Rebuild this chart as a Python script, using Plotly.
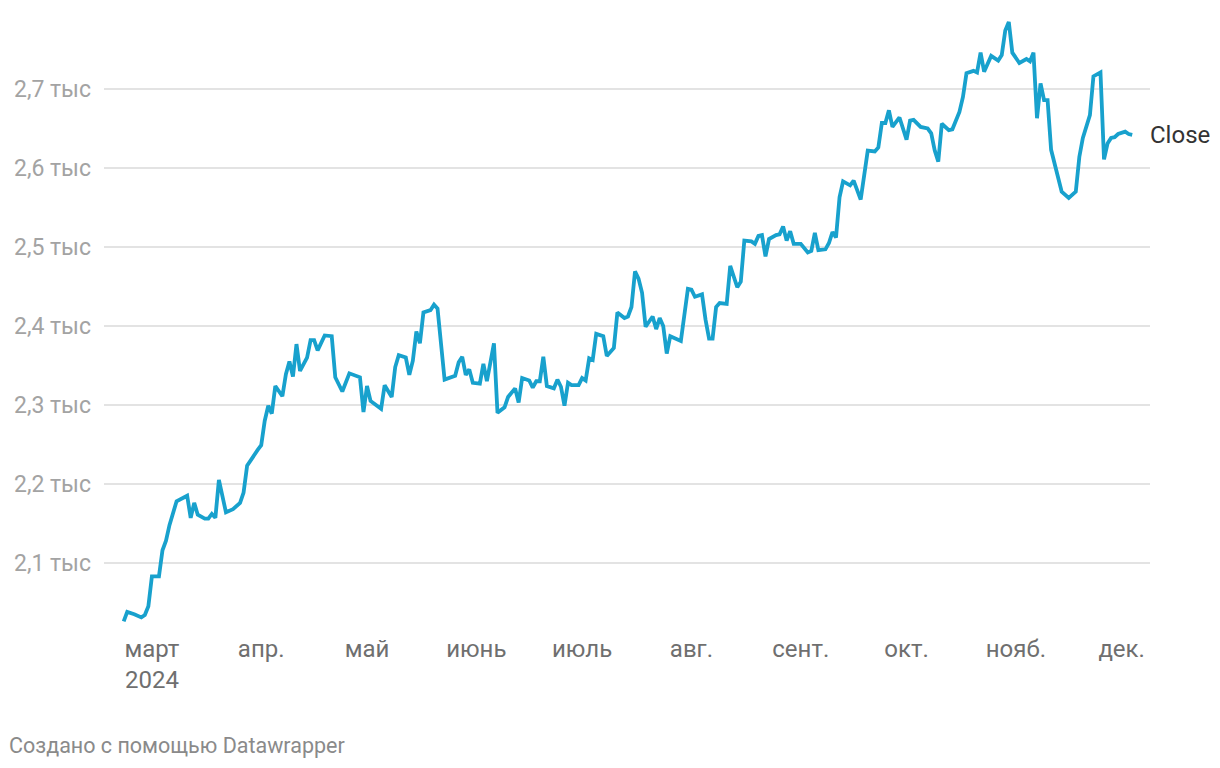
import plotly.graph_objects as go

# Daily close (vertices)
dates = [
    "2024-02-22", "2024-02-23", "2024-02-25", "2024-02-27", "2024-02-28", "2024-02-29",
    "2024-03-01", "2024-03-03", "2024-03-04", "2024-03-05", "2024-03-06", "2024-03-08",
    "2024-03-11", "2024-03-12", "2024-03-13", "2024-03-14", "2024-03-16", "2024-03-17",
    "2024-03-18", "2024-03-19", "2024-03-20", "2024-03-22", "2024-03-24", "2024-03-26",
    "2024-03-27", "2024-03-28", "2024-03-31",
    "2024-04-01", "2024-04-02", "2024-04-03", "2024-04-04", "2024-04-05", "2024-04-07",
    "2024-04-08", "2024-04-09", "2024-04-10", "2024-04-11", "2024-04-12", "2024-04-14",
    "2024-04-15", "2024-04-16", "2024-04-17", "2024-04-19", "2024-04-21", "2024-04-22",
    "2024-04-24", "2024-04-26", "2024-04-29", "2024-04-30",
    "2024-05-01", "2024-05-02", "2024-05-05", "2024-05-06", "2024-05-08", "2024-05-09",
    "2024-05-10", "2024-05-12", "2024-05-13", "2024-05-14", "2024-05-15", "2024-05-16",
    "2024-05-17", "2024-05-19", "2024-05-20", "2024-05-21", "2024-05-23", "2024-05-26",
    "2024-05-27", "2024-05-28", "2024-05-29", "2024-05-30", "2024-05-31",
    "2024-06-02", "2024-06-03", "2024-06-04", "2024-06-06", "2024-06-07", "2024-06-09",
    "2024-06-10", "2024-06-12", "2024-06-13", "2024-06-14", "2024-06-16", "2024-06-17",
    "2024-06-18", "2024-06-19", "2024-06-20", "2024-06-21", "2024-06-23", "2024-06-24",
    "2024-06-25", "2024-06-26", "2024-06-27", "2024-06-28", "2024-06-30",
    "2024-07-01", "2024-07-02", "2024-07-03", "2024-07-04", "2024-07-05", "2024-07-07",
    "2024-07-08", "2024-07-10", "2024-07-11", "2024-07-13", "2024-07-14", "2024-07-15",
    "2024-07-16", "2024-07-17", "2024-07-18", "2024-07-19", "2024-07-21", "2024-07-22",
    "2024-07-23", "2024-07-24", "2024-07-25", "2024-07-26", "2024-07-29", "2024-07-31",
    "2024-08-01", "2024-08-02", "2024-08-04", "2024-08-05", "2024-08-06", "2024-08-07",
    "2024-08-08", "2024-08-09", "2024-08-11", "2024-08-12", "2024-08-14", "2024-08-15",
    "2024-08-16", "2024-08-18", "2024-08-19", "2024-08-20", "2024-08-21", "2024-08-22",
    "2024-08-23", "2024-08-25", "2024-08-26", "2024-08-27", "2024-08-28", "2024-08-29",
    "2024-08-30",
    "2024-09-01", "2024-09-03", "2024-09-04", "2024-09-05", "2024-09-06", "2024-09-08",
    "2024-09-09", "2024-09-10", "2024-09-11", "2024-09-12", "2024-09-13", "2024-09-15",
    "2024-09-16", "2024-09-18", "2024-09-20", "2024-09-22", "2024-09-23", "2024-09-24",
    "2024-09-25", "2024-09-26", "2024-09-27", "2024-09-29",
    "2024-10-01", "2024-10-02", "2024-10-03", "2024-10-05", "2024-10-07", "2024-10-08",
    "2024-10-09", "2024-10-10", "2024-10-11", "2024-10-13", "2024-10-14", "2024-10-15",
    "2024-10-16", "2024-10-17", "2024-10-18", "2024-10-20", "2024-10-21", "2024-10-22",
    "2024-10-23", "2024-10-25", "2024-10-27", "2024-10-28", "2024-10-29", "2024-10-30",
    "2024-10-31",
    "2024-11-02", "2024-11-04", "2024-11-05", "2024-11-06", "2024-11-07", "2024-11-08",
    "2024-11-09", "2024-11-10", "2024-11-11", "2024-11-14", "2024-11-16", "2024-11-18",
    "2024-11-19", "2024-11-20", "2024-11-22", "2024-11-23", "2024-11-25", "2024-11-26",
    "2024-11-27", "2024-11-28", "2024-11-29", "2024-11-30",
    "2024-12-02", "2024-12-03", "2024-12-04",
]

close = [
    2026, 2038, 2035, 2031, 2034, 2045,
    2083, 2083, 2116, 2128, 2148, 2178, 2185, 2157, 2176, 2161, 2156, 2156,
    2162, 2157, 2205, 2164, 2168, 2176, 2189, 2223, 2243,
    2249, 2280, 2299, 2289, 2324, 2311, 2339, 2355, 2336, 2377, 2343, 2360,
    2382, 2382, 2369, 2388, 2387, 2335, 2317, 2340, 2335, 2291,
    2324, 2305, 2295, 2325, 2310, 2348, 2363, 2360, 2338, 2356, 2393, 2378,
    2417, 2420, 2427, 2422, 2332, 2337, 2354, 2361, 2338, 2345, 2328,
    2327, 2352, 2330, 2378, 2290, 2297, 2310, 2321, 2303, 2334, 2331, 2322,
    2330, 2330, 2361, 2324, 2321, 2332, 2323, 2299, 2328, 2325, 2325,
    2334, 2331, 2359, 2357, 2390, 2387, 2362, 2372, 2417, 2410, 2412, 2424,
    2469, 2460, 2442, 2399, 2412, 2396, 2410, 2400, 2365, 2387, 2381, 2447,
    2446, 2437, 2440, 2408, 2384, 2384, 2424, 2429, 2428, 2476, 2449, 2456,
    2508, 2507, 2504, 2514, 2515, 2488, 2510, 2515, 2516, 2526, 2508, 2520,
    2504,
    2504, 2493, 2495, 2518, 2496, 2497, 2505, 2519, 2512, 2563, 2583, 2578,
    2584, 2560, 2622, 2621, 2626, 2657, 2657, 2673, 2652, 2664,
    2636, 2660, 2661, 2652, 2650, 2644, 2622, 2608, 2656, 2648, 2649, 2659,
    2671, 2690, 2720, 2723, 2721, 2746, 2722, 2742, 2736, 2743, 2774, 2785,
    2746,
    2733, 2738, 2735, 2746, 2663, 2707, 2686, 2686, 2623, 2570, 2562, 2570,
    2614, 2638, 2667, 2716, 2721, 2611, 2631, 2638, 2639, 2643,
    2646, 2643, 2642,
]

month_ticks = ["2024-03-01", "2024-04-01", "2024-05-01", "2024-06-01", "2024-07-01",
               "2024-08-01", "2024-09-01", "2024-10-01", "2024-11-01", "2024-12-01"]
month_labels = ["март<br>2024", "апр.", "май", "июнь", "июль",
                "авг.", "сент.", "окт.", "нояб.", "дек."]

y_ticks = [2100, 2200, 2300, 2400, 2500, 2600, 2700]
y_labels = ["2,1 тыс", "2,2 тыс", "2,3 тыс", "2,4 тыс", "2,5 тыс", "2,6 тыс", "2,7 тыс"]

fig = go.Figure()
fig.add_trace(go.Scatter(
    x=dates, y=close, mode="lines", name="Close",
    line=dict(color="#18a1cd", width=3.8),
    hoverinfo="x+y",
))

# the page adds an 8px body margin, so margins are shifted by 8px
fig.update_layout(
    width=1220, height=768,
    margin=dict(l=92, r=78, t=6, b=146),
    plot_bgcolor="white", paper_bgcolor="white",
    font=dict(family="Roboto", size=22),
    showlegend=False,
    xaxis=dict(
        type="date",
        range=["2024-02-16 10:00", "2024-12-09 01:00"],
        tickvals=month_ticks, ticktext=month_labels,
        tickfont=dict(size=24, color="#6f6f6f"),
        showgrid=False, zeroline=False, showline=False, ticks="",
        ticklabelstandoff=2,
    ),
    yaxis=dict(
        range=[2015, 2795],
        tickvals=y_ticks, ticktext=y_labels,
        tickfont=dict(size=23, color="#a3a3a3"),
        gridcolor="#e3e3e3", gridwidth=1.5,
        zeroline=False, showline=False, ticks="",
        ticklabelstandoff=12,
    ),
)

fig.add_annotation(
    x=dates[-1], y=close[-1], text="Close", showarrow=False,
    xanchor="left", yanchor="middle", xshift=16,
    font=dict(size=24, color="#333333"),
)

fig.add_annotation(
    x=-0.0924, y=-0.1867, xref="paper", yref="paper",
    text="Создано с помощью Datawrapper", showarrow=False,
    xanchor="left", yanchor="middle",
    font=dict(size=21.5, color="#8a8a8a"),
)

fig.write_html("out.html")
